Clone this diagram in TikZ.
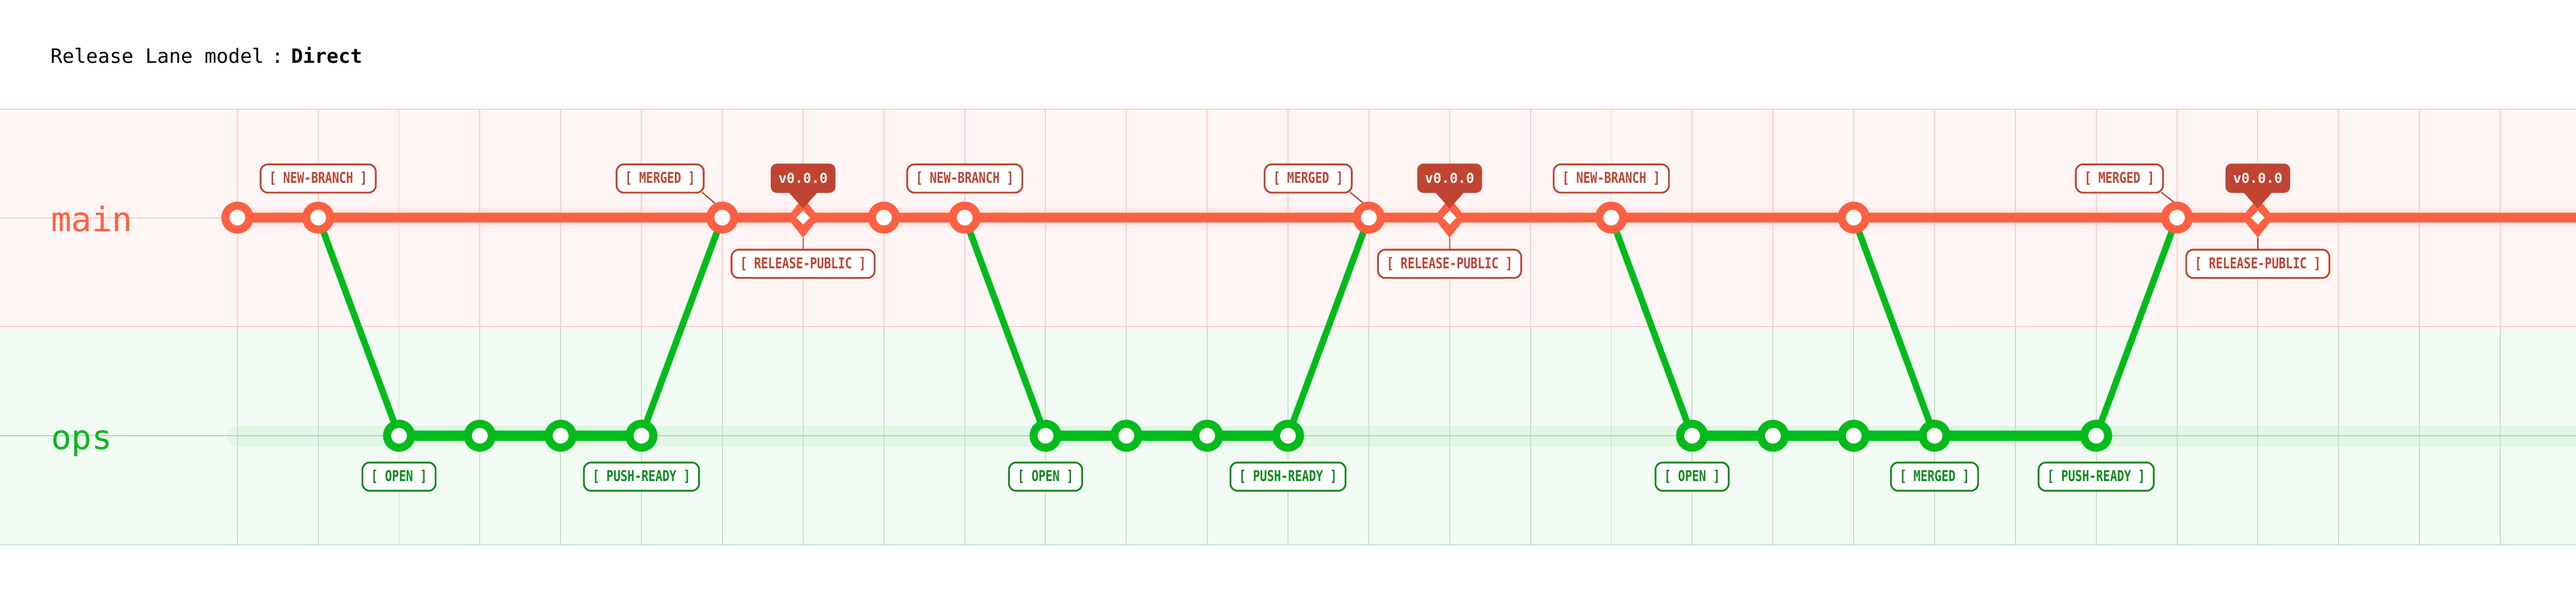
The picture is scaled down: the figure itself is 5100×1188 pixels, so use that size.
\documentclass[tikz,border=0pt]{standalone}
\usepackage{fontspec}
\usetikzlibrary{shapes.geometric}
\newfontfamily\dmono{DejaVu Sans Mono}
\newfontfamily\dmonob{DejaVu Sans Mono Bold}
\newfontfamily\lblfont[FakeStretch=0.78]{DejaVu Sans Mono Bold}
\definecolor{mainor}{HTML}{FF6042}
\definecolor{lblred}{HTML}{C04431}
\definecolor{opsgr}{HTML}{00BB1B}
\definecolor{lblgr}{HTML}{0B8A1D}
\definecolor{pinkbg}{HTML}{FFF5F4}
\definecolor{greenbg}{HTML}{F2FBF3}
\definecolor{pinkgrid}{HTML}{FFC7C7}
\definecolor{greengrid}{HTML}{C2DFC7}
\definecolor{mainhl}{HTML}{FFE9E6}
\definecolor{opshl}{HTML}{E1F6E4}
\definecolor{opsmid}{HTML}{B8CBBB}
\pgfdeclarelayer{grid}
\pgfdeclarelayer{lines}
\pgfsetlayers{grid,lines,main}
\begin{document}
\begin{tikzpicture}[x=1pt,y=-1pt,
  mcommit/.style={circle,draw=mainor,fill=white,line width=16pt,minimum size=47.4pt,inner sep=0pt},
  ocommit/.style={circle,draw=opsgr,fill=white,line width=16pt,minimum size=47.4pt,inner sep=0pt},
  reldia/.style={diamond,fill=mainor,minimum width=63pt,minimum height=80pt,inner sep=0pt},
  reldiain/.style={diamond,fill=white,minimum width=27pt,minimum height=28pt,inner sep=0pt},
  mainline/.style={draw=mainor,line width=20pt},
  opsline/.style={draw=opsgr,line width=20pt},
  branchline/.style={draw=opsgr,line width=13pt},
  lblbase/.style={line width=3.5pt,fill=white,rounded corners=14pt,inner xsep=17pt,inner ysep=0pt,minimum height=56pt,font=\lblfont\fontsize{29.5}{30}\selectfont},
  lblmain/.style={lblbase,draw=lblred,text=lblred},
  lblops/.style={lblbase,draw=lblgr,text=lblgr},
  tagbox/.style={fill=lblred,rounded corners=12pt,text=white,minimum width=128pt,minimum height=58pt,inner sep=0pt,font=\dmonob\fontsize{27}{28}\selectfont},
  conn/.style={draw=lblred,line width=2.5pt},
  lanelbl/.style={anchor=base west,inner sep=0pt,font=\dmono\fontsize{67}{70}\selectfont}
]
\useasboundingbox (0,0) rectangle (5100,1188);

% ---------- background, bands, grid ----------
\begin{pgfonlayer}{grid}
\fill[white] (0,0) rectangle (5100,1188);
\fill[pinkbg] (0,216) rectangle (5100,647);
\fill[greenbg] (0,647) rectangle (5100,1079);
\draw[mainhl,line width=40pt,line cap=round] (470,431) -- (5130,431);
\draw[opshl,line width=40pt,line cap=round] (470,864) -- (5130,864);
\foreach \k in {0,...,28} {
  \draw[pinkgrid,line width=2pt] ({470+160*\k},216) -- ({470+160*\k},647);
  \draw[greengrid,line width=2pt] ({470+160*\k},647) -- ({470+160*\k},1079);
}
\draw[pinkgrid,line width=2pt] (0,431) -- (5100,431);
\draw[opsmid,line width=2.5pt] (0,863) -- (5100,863);
\draw[pinkgrid,line width=2pt] (0,216) -- (5100,216);
\draw[pinkgrid,line width=2pt] (0,647) -- (5100,647);
\draw[greengrid,line width=2pt] (0,1079) -- (5100,1079);
\end{pgfonlayer}

% ---------- title and lane names ----------
\node[anchor=base west,inner sep=0pt,font=\dmono\fontsize{39}{41}\selectfont] (title) at (100,125)
  {Release Lane model\hspace{15pt}:\hspace{15pt}{\dmonob Direct}};
\node[lanelbl,text=mainor] (lmain) at (101,458) {main};
\node[lanelbl,text=opsgr] (lops) at (101,890) {ops};

% ---------- commits ----------
\foreach \k in {0,1,6,8,9,14,17,20,24}
  \node[mcommit] (m\k) at ({470+160*\k},431) {};
\foreach \k in {7,15,25} {
  \node[reldia] (m\k) at ({470+160*\k},431) {};
  \node[reldiain] (mi\k) at (m\k) {};
}
\foreach \k in {2,3,4,5,10,11,12,13,18,19,20,21,23}
  \node[ocommit] (o\k) at ({470+160*\k},863) {};
\coordinate (mEnd) at (5100,431);

% ---------- lines ----------
\begin{pgfonlayer}{lines}
\draw[mainline] (m0.center) -- (m1.center) -- (m6.center) -- (m7.center) -- (m8.center)
  -- (m9.center) -- (m14.center) -- (m15.center) -- (m17.center) -- (m20.center)
  -- (m24.center) -- (m25.center) -- (mEnd);
\draw[opsline] (o2.center) -- (o3.center) -- (o4.center) -- (o5.center);
\draw[opsline] (o10.center) -- (o11.center) -- (o12.center) -- (o13.center);
\draw[opsline] (o18.center) -- (o19.center) -- (o20.center) -- (o21.center) -- (o23.center);
\draw[branchline] (m1.center) -- (o2.center);
\draw[branchline] (o5.center) -- (m6.center);
\draw[branchline] (m9.center) -- (o10.center);
\draw[branchline] (o13.center) -- (m14.center);
\draw[branchline] (m17.center) -- (o18.center);
\draw[branchline] (m20.center) -- (o21.center);
\draw[branchline] (o23.center) -- (m24.center);
\end{pgfonlayer}

% ---------- release tags ----------
\foreach \k in {7,15,25} {
  \node[tagbox] (t\k) at ({470+160*\k},353) {v0.0.0};
  \fill[lblred] ([xshift=-29pt,yshift=2pt]t\k.south) -- ([xshift=29pt,yshift=2pt]t\k.south)
     -- ([yshift=18pt]m\k.center) -- cycle;
  \node[lblmain] (r\k) at ({470+160*\k},522.5) {[ RELEASE-PUBLIC ]};
  \draw[conn] (m\k.south) -- (r\k.north);
}

% ---------- main labels ----------
\foreach \k in {1,9,17}
  \node[lblmain] (nb\k) at ({470+160*\k},353.5) {[ NEW-BRANCH ]};
\node[lblmain] (mg6) at (1307,353.5) {[ MERGED ]};
\node[lblmain] (mg14) at (2590,353.5) {[ MERGED ]};
\node[lblmain] (mg24) at (4196,353.5) {[ MERGED ]};
\draw[conn] ([xshift=-5pt,yshift=2.5pt]mg6.south east) -- (m6.117);
\draw[conn] ([xshift=-5pt,yshift=2.5pt]mg14.south east) -- (m14.112);
\draw[conn] ([xshift=-5pt,yshift=2.5pt]mg24.south east) -- (m24.102);

% ---------- ops labels ----------
\foreach \k in {2,10,18}
  \node[lblops] (op\k) at ({470+160*\k},944) {[ OPEN ]};
\foreach \k in {5,13,23}
  \node[lblops] (pr\k) at ({470+160*\k},944) {[ PUSH-READY ]};
\node[lblops] (om21) at (3830,944) {[ MERGED ]};
\end{tikzpicture}
\end{document}
